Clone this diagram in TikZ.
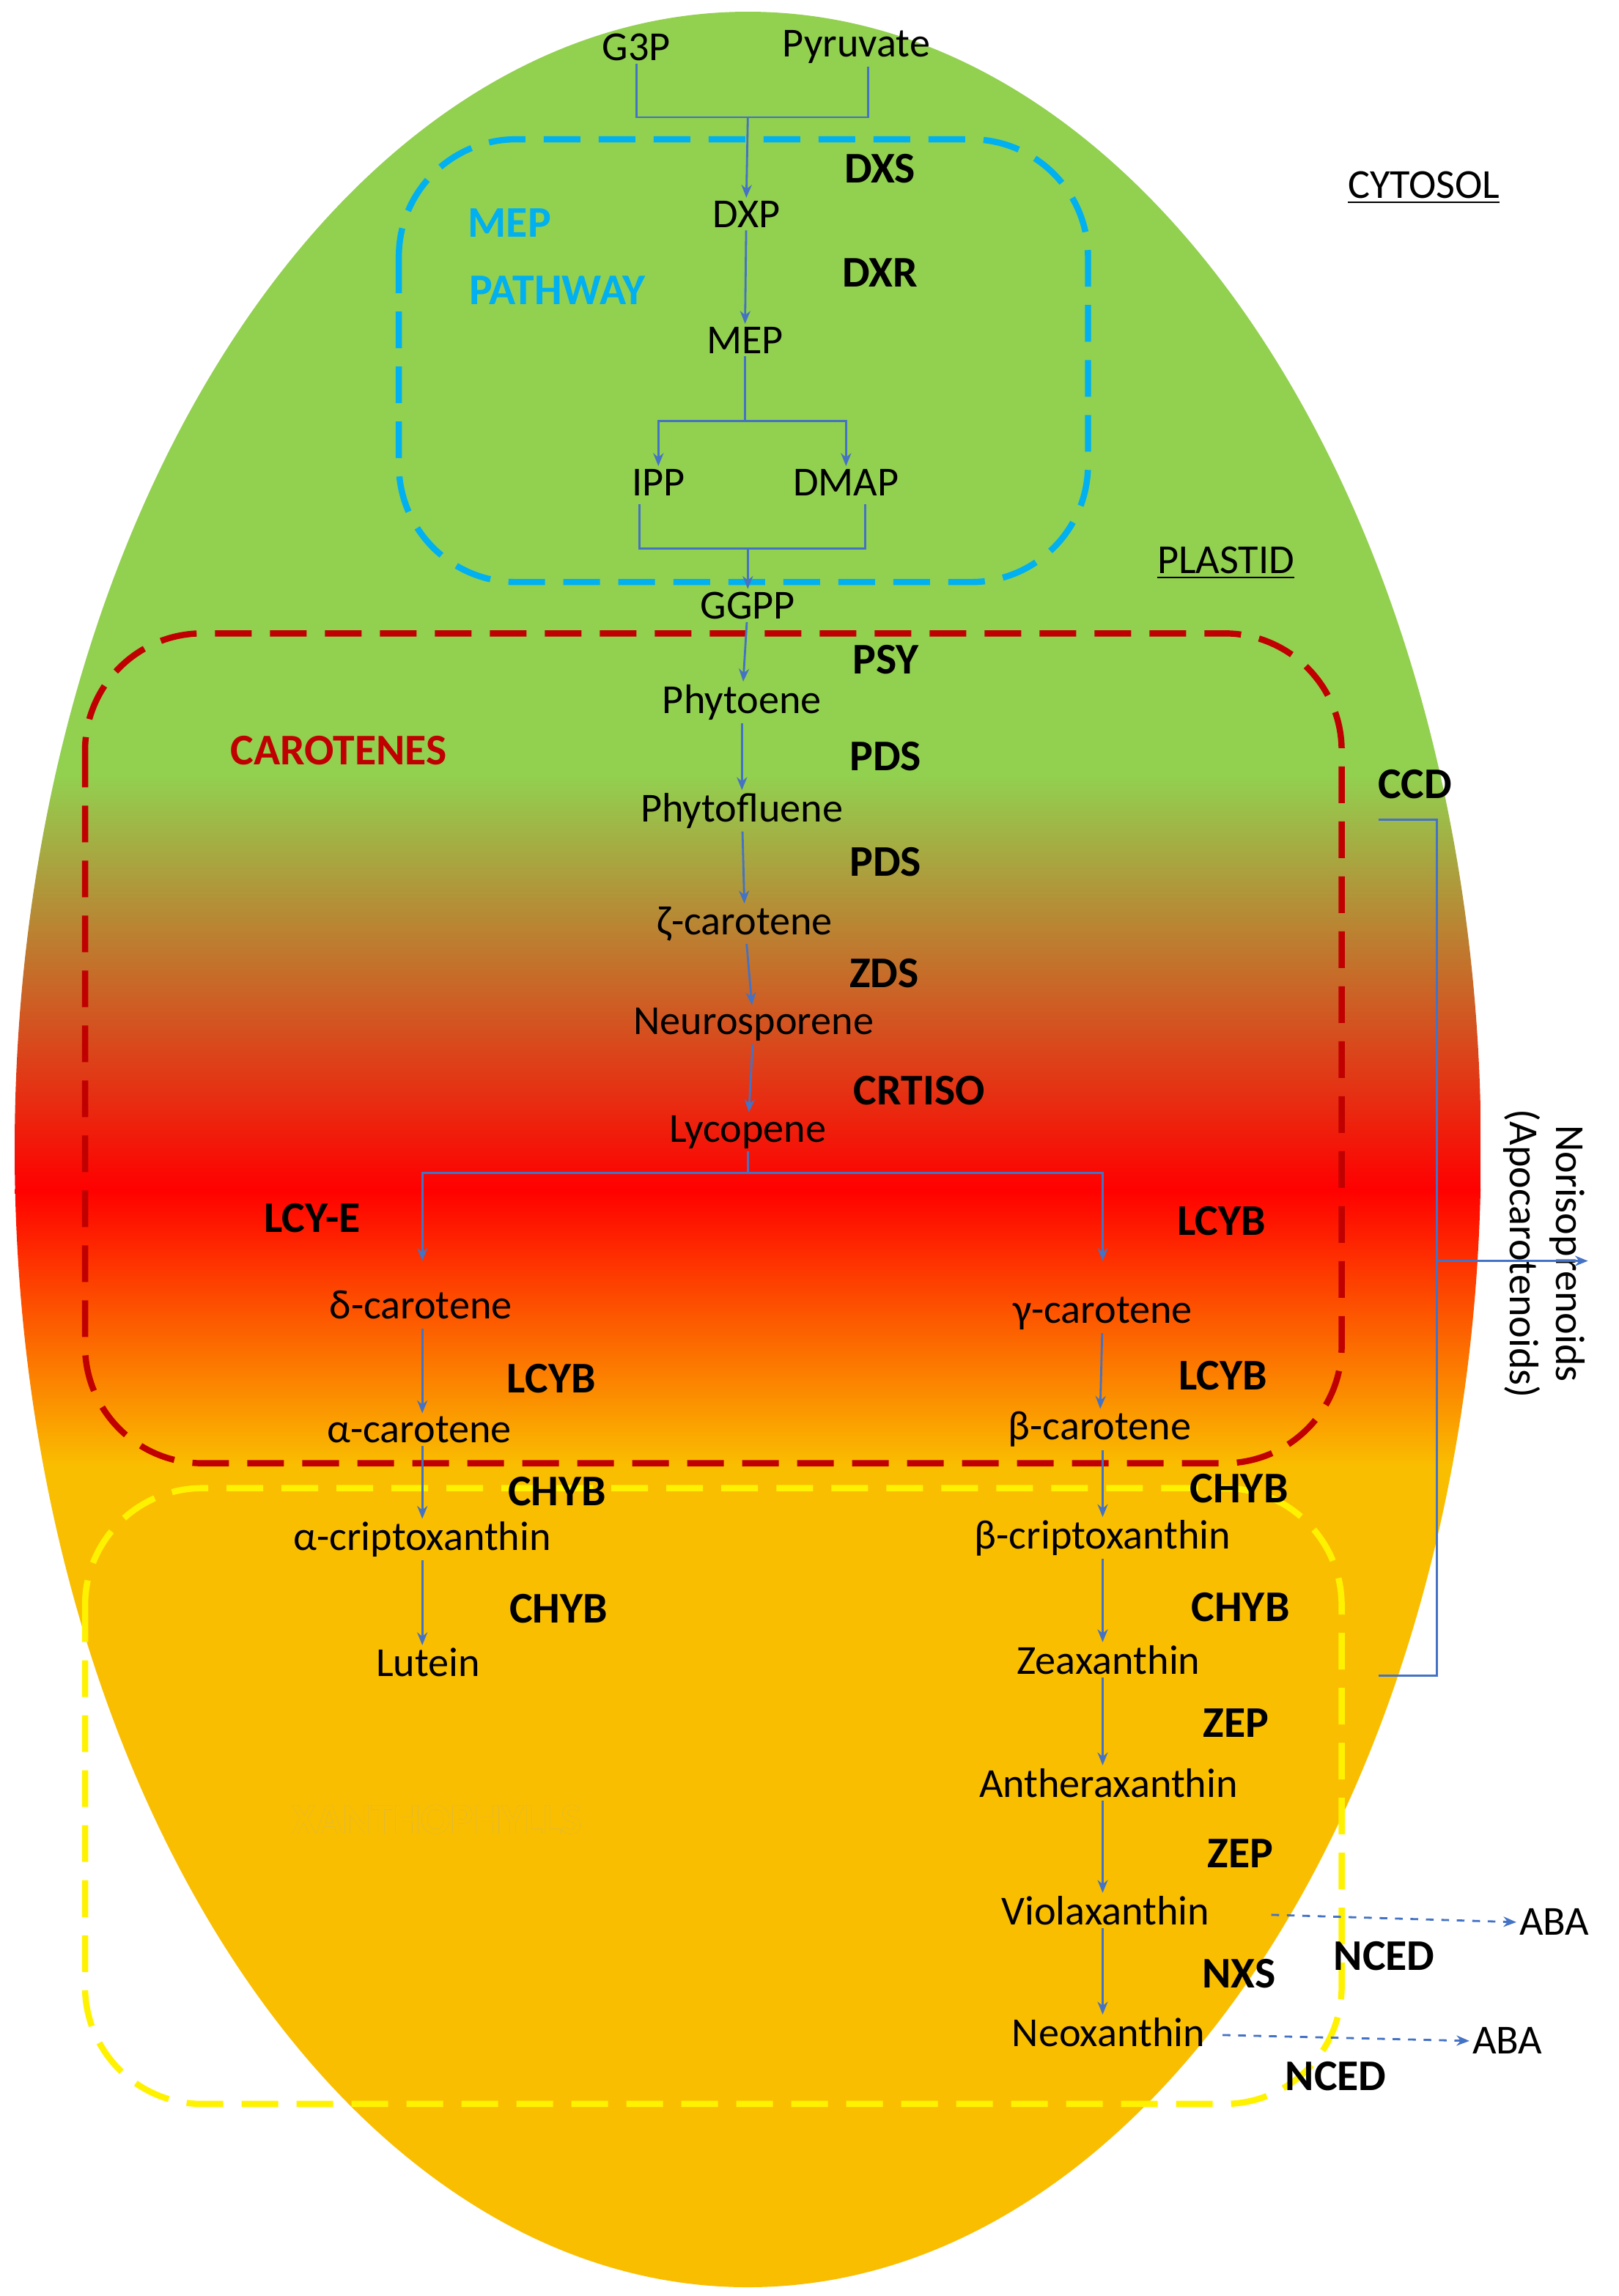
\documentclass[tikz,border=0pt]{standalone}
\usepackage{fontspec}
\setmainfont{Carlito}
\usepackage{xcolor}
\usepackage[outline]{contour}
\usetikzlibrary{arrows.meta}
\definecolor{leaf}{RGB}{146,208,80}
\definecolor{fire}{RGB}{255,0,0}
\definecolor{amber}{RGB}{250,190,0}
\definecolor{arr}{RGB}{68,114,196}
\definecolor{mepblue}{RGB}{0,176,240}
\definecolor{darkred}{RGB}{192,0,0}
\begin{document}
\begin{tikzpicture}[x=0.02cm,y=-0.02cm,
  met/.style={inner sep=1pt,font=\fontsize{16}{18}\selectfont},
  enz/.style={inner sep=1pt,font=\fontsize{17}{19}\selectfont\bfseries},
  flow/.style={arr,line width=0.8pt,-{Stealth[length=5pt,width=4pt]}},
  link/.style={arr,line width=0.8pt},
  box/.style={rounded corners=1.6cm,line width=2.4pt,dash pattern=on 0.5cm off 0.25cm}]
\useasboundingbox (0,0) rectangle (1104,1566);
% cell
\begin{scope}
\clip (510,784) ellipse [x radius=500, y radius=776];
\fill[leaf] (0,0) rectangle (1104,530);
\shade[top color=leaf,bottom color=fire] (0,529) rectangle (1104,812);
\shade[top color=fire,bottom color=amber] (0,811) rectangle (1104,1000);
\fill[amber] (0,999) rectangle (1104,1566);
\end{scope}
% compartments
\draw[box,mepblue] (272,95) rectangle (742,397);
\draw[box,darkred] (58,432) rectangle (915,998);
\draw[box,yellow] (58,1015) rectangle (915,1435);
\node[met] at (971,128) {\underline{CYTOSOL}};
\node[met] at (836,384) {\underline{PLASTID}};
\node[enz,mepblue,align=center] at (380,175) {\hspace*{-1.3cm}MEP\\[0.25cm]PATHWAY};
\node[enz,darkred] at (231,512) {CAROTENES};
\node[enz] at (298,1241) {\contour{arr!60}{\textcolor{amber}{XANTHOPHYLLS}}};
% metabolites
\node[met] (g3p) at (434,32) {G3P};
\node[met] (pyr) at (584,32) {Pyruvate};
\node[met] (dxp) at (509,146) {DXP};
\node[met] (mep) at (508,232) {MEP};
\node[met] (ipp) at (449,329) {IPP};
\node[met] (dmap) at (577,329) {DMAP};
\node[met] (ggpp) at (510,413) {GGPP};
\node[met] (phyt) at (506,479) {Phytoene};
\node[met] (phfl) at (506,553) {Phytofluene};
\node[met] (zeta) at (508,630) {ζ-carotene};
\node[met] (neur) at (514,699) {Neurosporene};
\node[met] (lyco) at (510,772) {Lycopene};
\node[met] (delta) at (287,890) {δ-carotene};
\node[met] (gamma) at (752,896) {γ-carotene};
\node[met] (alpha) at (286,975) {α-carotene};
\node[met] (beta) at (750,975) {β-carotene};
\node[met] (acrip) at (288,1050) {α-criptoxanthin};
\node[met] (bcrip) at (752,1049) {β-criptoxanthin};
\node[met] (lut) at (292,1134) {Lutein};
\node[met] (zea) at (756,1132) {Zeaxanthin};
\node[met] (anth) at (756,1216) {Antheraxanthin};
\node[met] (viol) at (754,1303) {Violaxanthin};
\node[met] (neox) at (756,1386) {Neoxanthin};
\node[met] (aba1) at (1060,1311) {ABA};
\node[met] (aba2) at (1028,1392) {ABA};
\node[met,rotate=-90,align=center] (nor) at (1053,855) {Norisoprenoids\\(Apocarotenoids)};
% enzymes
\node[enz] at (600,115) {DXS};
\node[enz] at (600,186) {DXR};
\node[enz] at (604,450) {PSY};
\node[enz] at (604,516) {PDS};
\node[enz] at (604,588) {PDS};
\node[enz] at (603,664) {ZDS};
\node[enz] at (627,744) {CRTISO};
\node[enz] at (213,831) {LCY-E};
\node[enz] at (833,833) {LCYB};
\node[enz] at (376,940) {LCYB};
\node[enz] at (834,938) {LCYB};
\node[enz] at (380,1017) {CHYB};
\node[enz] at (845,1015) {CHYB};
\node[enz] at (381,1097) {CHYB};
\node[enz] at (846,1096) {CHYB};
\node[enz] at (843,1175) {ZEP};
\node[enz] at (846,1264) {ZEP};
\node[enz] at (845,1346) {NXS};
\node[enz] at (944,1334) {NCED};
\node[enz] at (911,1416) {NCED};
\node[enz] at (965,535) {CCD};
% junctions
\coordinate (j1) at (510,80);
\coordinate (j2) at (508,287);
\coordinate (j3) at (510,374);
\coordinate (j4) at (510,800);
\coordinate (ccd) at (980,860);
% connectors
\draw[link] (g3p.south) |- (j1) -| (pyr.south east -| 592,0);
\draw[flow] (j1) -- (dxp.north);
\draw[flow] (dxp) -- (mep);
\draw[link] (mep.south) -- (j2);
\draw[flow] (j2) -| (ipp.north);
\draw[flow] (j2) -| (dmap.north);
\draw[link] (436,344) |- (j3) -| (590,344);
\draw[flow] (j3) -- (ggpp.north);
\draw[flow] (ggpp) -- (phyt);
\draw[flow] (phyt) -- (phfl);
\draw[flow] (phfl) -- (zeta);
\draw[flow] (zeta) -- (neur);
\draw[flow] (neur) -- (lyco);
\draw[link] (lyco.south) -- (j4);
\draw[flow] (j4) -| (288,860);
\draw[flow] (j4) -| (752,860);
\draw[flow] (288,906) -- (alpha.north -| 288,0);
\draw[flow] (alpha.south -| 288,0) -- (acrip.north -| 288,0);
\draw[flow] (acrip.south -| 288,0) -- (lut.north -| 288,0);
\draw[flow] (gamma) -- (beta);
\draw[flow] (beta.south -| 752,0) -- (bcrip.north -| 752,0);
\draw[flow] (bcrip.south -| 752,0) -- (zea.north -| 752,0);
\draw[flow] (zea.south -| 752,0) -- (anth.north -| 752,0);
\draw[flow] (anth.south -| 752,0) -- (viol.north -| 752,0);
\draw[flow] (viol.south -| 752,0) -- (neox.north -| 752,0);
\draw[link] (940,559) -| (ccd) |- (940,1143);
\draw[flow] (ccd) -- (nor.north |- ccd);
\draw[flow,dashed] (viol.east) ++(40,3) -- (aba1.west);
\draw[flow,dashed] (neox.east) ++(10,2) -- (aba2.west);
\end{tikzpicture}
\end{document}
